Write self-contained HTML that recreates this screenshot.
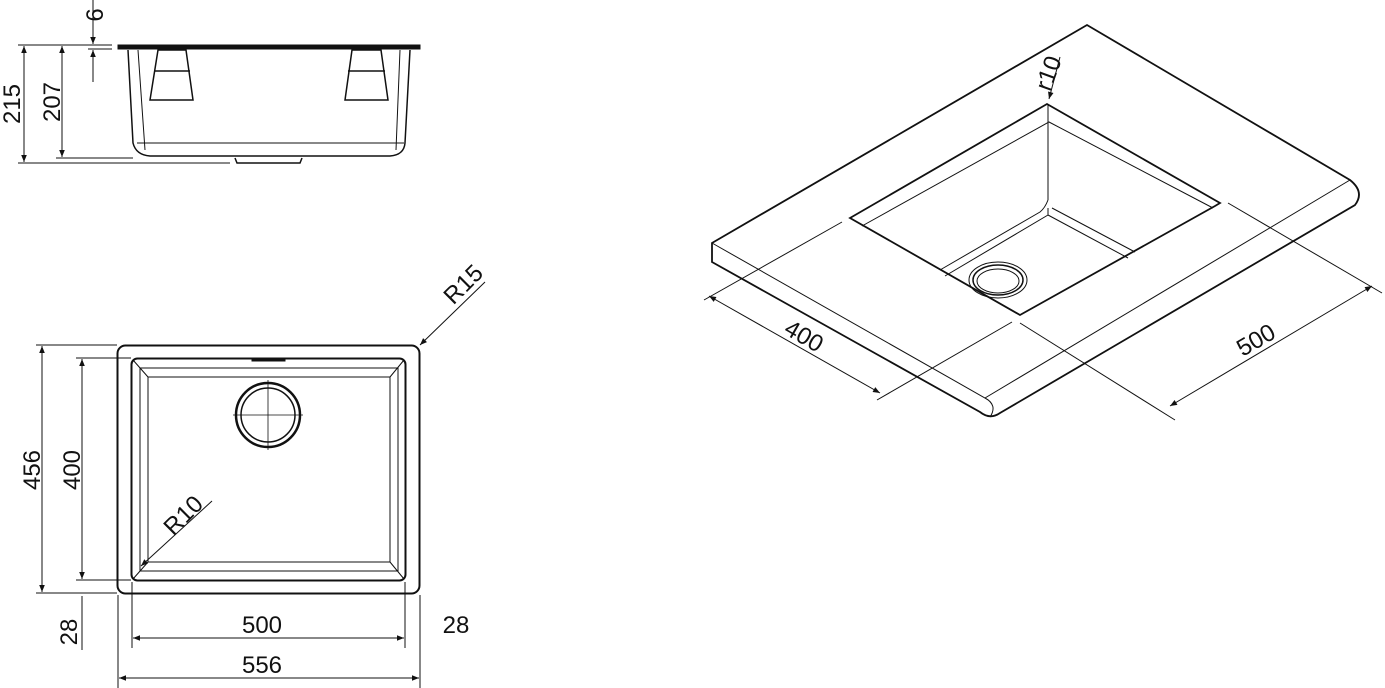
<!DOCTYPE html>
<html><head><style>
html,body{margin:0;padding:0;background:#fff}
svg{display:block}
text{font-family:"Liberation Sans","DejaVu Sans",sans-serif;font-size:24px;fill:#111}
</style></head><body>
<svg width="1385" height="688" viewBox="0 0 1385 688" xmlns="http://www.w3.org/2000/svg">
<defs>
<marker id="a" viewBox="0 0 10 10" refX="10" refY="5" markerWidth="11" markerHeight="7" orient="auto-start-reverse" markerUnits="userSpaceOnUse"><path d="M0,1 L10,5 L0,9 z" fill="#111"/></marker>
</defs>
<g fill="none" stroke="#111" stroke-width="1">
<path d="M118,45 L420,45 L420,49 L118,49 Z" fill="#111" stroke-width="1"/>
<path d="M128,50 L133,143 Q136,155 150,156 L390,156 Q404,155 405,143 L410,50" stroke-width="1.5"/>
<path d="M138,50 L145,150 M400,50 L396,150 M137,143 L404,143"/>
<path d="M158,50 L150,100 L193,100 L186,50 Z M154,71 L190,71" stroke-width="1.5"/>
<path d="M352,50 L345,100 L388,100 L381,50 Z M348,71 L385,71" stroke-width="1.5"/>
<path d="M235,158 L237,163 L300,163 L302,158" stroke-width="1.5"/>
<line x1="18" y1="45" x2="112" y2="45"/>
<line x1="18" y1="163" x2="230" y2="163"/>
<line x1="56" y1="158" x2="133" y2="158"/>
<line x1="88" y1="49" x2="112" y2="49"/>
<line x1="24" y1="46" x2="24" y2="162" marker-start="url(#a)" marker-end="url(#a)"/>
<line x1="62" y1="46" x2="62" y2="157" marker-start="url(#a)" marker-end="url(#a)"/>
<line x1="93" y1="0" x2="93" y2="44" marker-end="url(#a)"/>
<line x1="93" y1="82" x2="93" y2="50" marker-end="url(#a)"/>
<rect x="117.5" y="345.5" width="302" height="248" rx="8" stroke-width="2"/>
<rect x="131.5" y="358.5" width="274" height="222" rx="6" stroke-width="2"/>
<rect x="148" y="377" width="242" height="185"/>
<rect x="140" y="368" width="258" height="203"/>
<path d="M133,360 L148,377 M404,360 L390,377 M133,579 L148,562 M404,579 L390,562"/>
<rect x="252" y="358" width="33" height="3" fill="#111"/>
<circle cx="268" cy="415" r="32" stroke-width="2.5"/>
<circle cx="268" cy="415" r="27" stroke-width="1.5"/>
<path d="M233,415 L303,415 M268,380 L268,450" stroke-width="0.8"/>
<line x1="420" y1="345" x2="485" y2="282" marker-start="url(#a)"/>
<line x1="141" y1="566" x2="212" y2="501" marker-start="url(#a)"/>
<line x1="36" y1="345" x2="117" y2="345"/>
<line x1="36" y1="593" x2="117" y2="593"/>
<line x1="76" y1="358" x2="131" y2="358"/>
<line x1="76" y1="580" x2="131" y2="580"/>
<line x1="42" y1="346" x2="42" y2="592" marker-start="url(#a)" marker-end="url(#a)"/>
<line x1="82" y1="359" x2="82" y2="579" marker-start="url(#a)" marker-end="url(#a)"/>
<line x1="82" y1="596" x2="82" y2="650"/>
<line x1="118" y1="595" x2="118" y2="688"/>
<line x1="420" y1="595" x2="420" y2="688"/>
<line x1="132" y1="582" x2="132" y2="648"/>
<line x1="405" y1="582" x2="405" y2="648"/>
<line x1="133" y1="638" x2="404" y2="638" marker-start="url(#a)" marker-end="url(#a)"/>
<line x1="119" y1="678" x2="419" y2="678" marker-start="url(#a)" marker-end="url(#a)"/>
<path d="M712,243 L1087,25 L1350,180 Q1365,192 1355,205 L1000,413 Q990,420 980,412 L712,262 Z" stroke-width="1.8" fill="#fff"/>
<path d="M712,243 L985,398 Q998,405 990,417 M985,398 L1350,180"/>
<path d="M850,218 L1047,104 L1220,203 L1215,206 L1020,315 L850,218 Z" stroke-width="1.8"/>
<path d="M862,226 L1049,122 L1213,208 M1048,104 L1048,200 M1048,208 L1048,215 L945,276 M1048,215 L1128,258 M1048,200 Q1045,208 1040,212 L940,270 M1052,208 L1135,252"/>
<ellipse cx="998" cy="280" rx="29" ry="18"/>
<ellipse cx="998" cy="280" rx="25" ry="15" stroke-width="1.5"/>
<ellipse cx="998" cy="281" rx="21" ry="12"/>
<line x1="1060" y1="57" x2="1049" y2="99" marker-end="url(#a)"/>
<line x1="704" y1="300" x2="842" y2="222"/>
<line x1="877" y1="400" x2="1012" y2="322"/>
<line x1="1020" y1="323" x2="1175" y2="420"/>
<line x1="1228" y1="203" x2="1382" y2="293"/>
<line x1="709" y1="296" x2="880" y2="393" marker-start="url(#a)" marker-end="url(#a)"/>
<line x1="1170" y1="406" x2="1372" y2="286" marker-start="url(#a)" marker-end="url(#a)"/>
</g>
<g>
<text transform="translate(40,470) rotate(-90)" text-anchor="middle">456</text>
<text transform="translate(80,470) rotate(-90)" text-anchor="middle">400</text>
<text transform="translate(77,632) rotate(-90)" text-anchor="middle">28</text>
<text transform="translate(20,104) rotate(-90)" text-anchor="middle">215</text>
<text transform="translate(60,102) rotate(-90)" text-anchor="middle">207</text>
<text transform="translate(103,15) rotate(-90)" text-anchor="middle">6</text>
<text x="262" y="633" text-anchor="middle">500</text>
<text x="262" y="673" text-anchor="middle">556</text>
<text x="456" y="633" text-anchor="middle">28</text>
<text transform="translate(469,290) rotate(-45)" text-anchor="middle">R15</text>
<text transform="translate(189,521) rotate(-45)" text-anchor="middle">R10</text>
<text transform="translate(1056,76) rotate(-70)" text-anchor="middle">r10</text>
<text transform="translate(800,343) rotate(30)" text-anchor="middle">400</text>
<text transform="translate(1260,347) rotate(-30)" text-anchor="middle">500</text>
</g>
</svg>
</body></html>
